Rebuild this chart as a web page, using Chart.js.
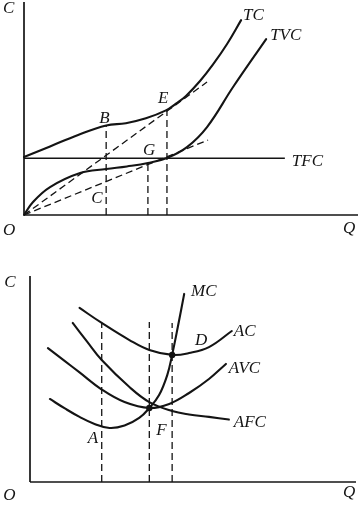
<!DOCTYPE html>
<html>
<head>
<meta charset="utf-8">
<script src="https://cdn.jsdelivr.net/npm/chart.js@4/dist/chart.umd.min.js"></script>
<style>
  html, body { margin: 0; padding: 0; background: #fff; }
  canvas { display: block; }
</style>
</head>
<body>
<canvas id="top" width="360" height="250"></canvas>
<canvas id="bottom" width="360" height="259"></canvas>
<script>
// ---------- Top panel: total cost curves (Q, C) ----------
const tcQ  = [0, 0.78, 1.62, 2.46, 3.05, 3.65, 4.25, 4.55, 4.85, 5.27, 5.66, 6.08, 6.50];
const tcC  = [2.72, 3.22, 3.76, 4.20, 4.31, 4.54, 4.91, 5.23, 5.59, 6.29, 7.07, 8.03, 9.15];
const tvcQ = [0, 0.27, 0.78, 1.68, 2.46, 3.08, 3.71, 4.28, 4.88, 5.48, 6.26, 7.25];
const tvcC = [0, 0.61, 1.31, 1.97, 2.16, 2.28, 2.44, 2.68, 3.19, 4.13, 6.01, 8.26];
const tfcQ = [0, 7.81];
const tfcC = [2.66, 2.66];
const ray1Q = [0, 5.48];
const ray1C = [0, 6.24];
const ray2Q = [0, 5.51];
const ray2C = [0, 3.52];
const topVertQ   = [2.46, 3.71, 4.28];
const topVertTop = [4.20, 2.44, 4.93];
const topLabelText = ['C', 'O', 'Q', 'TC', 'TVC', 'TFC', 'B', 'E', 'G', 'C'];
const topLabelQ    = [-0.63, -0.63, 9.55, 6.56, 7.37, 8.02, 2.25, 4.01, 3.56, 2.01];
const topLabelC    = [9.48, -0.94, -0.85, 9.15, 8.22, 2.30, 4.32, 5.26, 2.82, 0.56];

// ---------- Bottom panel: average & marginal cost curves ----------
const mcQ  = [0.61, 1.07, 1.52, 1.98, 2.44, 2.90, 3.35, 3.66, 3.96, 4.21, 4.36, 4.54, 4.73];
const mcC  = [4.03, 3.57, 3.16, 2.82, 2.62, 2.74, 3.11, 3.59, 4.22, 5.19, 6.17, 7.57, 9.13];
const acQ  = [1.52, 2.20, 3.05, 3.66, 4.36, 4.88, 5.49, 6.19];
const acC  = [8.45, 7.72, 6.89, 6.41, 6.17, 6.26, 6.55, 7.33];
const avcQ = [0.55, 1.07, 1.52, 2.20, 2.90, 3.66, 4.27, 4.88, 5.49, 6.01];
const avcC = [6.50, 5.87, 5.32, 4.49, 3.88, 3.59, 3.79, 4.32, 5.00, 5.73];
const afcQ = [1.31, 1.74, 2.20, 3.05, 3.66, 4.36, 4.88, 5.49, 6.10];
const afcC = [7.72, 6.84, 5.92, 4.61, 3.88, 3.45, 3.28, 3.16, 3.03];
const botVertQ   = [2.20, 3.66, 4.36];
const botVertTop = [7.72, 7.77, 7.72];
const dotQ = [4.36, 3.66];
const dotC = [6.17, 3.59];
const botLabelText = ['C', 'O', 'Q', 'MC', 'AC', 'D', 'AVC', 'AFC', 'A', 'F'];
const botLabelQ    = [-0.79, -0.82, 9.60, 4.94, 6.25, 5.06, 6.10, 6.25, 1.77, 3.87];
const botLabelC    = [9.47, -0.87, -0.73, 9.03, 7.09, 6.65, 5.29, 2.67, 1.89, 2.28];

// axis extents (data units)
const axisMax = 10;

// ---------- helpers ----------
const INK = '#141414';
function pts(qs, cs) { return qs.map((q, i) => ({ x: q, y: cs[i] })); }
function curve(qs, cs) {
  return { data: pts(qs, cs), showLine: true, borderColor: INK, borderWidth: 2.1,
           pointRadius: 0, tension: 0.4, borderCapStyle: 'round', borderJoinStyle: 'round',
           clip: false };
}
function straight(qs, cs, width, dash) {
  return { data: pts(qs, cs), showLine: true, borderColor: INK, borderWidth: width,
           borderDash: dash || [], pointRadius: 0, tension: 0, clip: false };
}
const DASH = [7, 4];
function verticals(qs, tops) {
  return qs.map((q, i) => straight([q, q], [0, tops[i]], 1.3, DASH));
}
function axes() {
  return [straight([0, 0], [0, axisMax], 1.7), straight([0, axisMax], [0, 0], 1.7)];
}

const labelPlugin = {
  id: 'textLabels',
  afterDatasetsDraw(chart, args, opts) {
    const ctx = chart.ctx, xs = chart.scales.x, ys = chart.scales.y;
    ctx.save();
    ctx.font = 'italic 17px "Liberation Serif", "DejaVu Serif", serif';
    ctx.fillStyle = INK;
    ctx.textAlign = 'left';
    ctx.textBaseline = 'alphabetic';
    opts.text.forEach((t, i) => {
      ctx.fillText(t, xs.getPixelForValue(opts.q[i]), ys.getPixelForValue(opts.c[i]));
    });
    ctx.restore();
  }
};

function makeOptions(padding, labels) {
  return {
    responsive: false,
    animation: false,
    devicePixelRatio: 1,
    layout: { padding: padding },
    scales: {
      x: { type: 'linear', min: 0, max: axisMax, display: false },
      y: { type: 'linear', min: 0, max: axisMax, display: false }
    },
    plugins: { legend: { display: false }, tooltip: { enabled: false }, textLabels: labels },
    events: []
  };
}

// ---------- top chart ----------
new Chart(document.getElementById('top'), {
  type: 'scatter',
  data: {
    datasets: [
      ...axes(),
      straight(tfcQ, tfcC, 1.5),
      straight(ray1Q, ray1C, 1.3, DASH),
      straight(ray2Q, ray2C, 1.3, DASH),
      ...verticals(topVertQ, topVertTop),
      curve(tcQ, tcC),
      curve(tvcQ, tvcC)
    ]
  },
  options: makeOptions({ left: 24, right: 2, top: 2, bottom: 35 },
                       { text: topLabelText, q: topLabelQ, c: topLabelC }),
  plugins: [labelPlugin]
});

// ---------- bottom chart ----------
new Chart(document.getElementById('bottom'), {
  type: 'scatter',
  data: {
    datasets: [
      ...axes(),
      ...verticals(botVertQ, botVertTop),
      curve(afcQ, afcC),
      curve(avcQ, avcC),
      curve(acQ, acC),
      curve(mcQ, mcC),
      { data: pts(dotQ, dotC), showLine: false, pointRadius: 3.2,
        pointBackgroundColor: INK, pointBorderColor: INK, pointBorderWidth: 0, clip: false }
    ]
  },
  options: makeOptions({ left: 30, right: 2, top: 26, bottom: 27 },
                       { text: botLabelText, q: botLabelQ, c: botLabelC }),
  plugins: [labelPlugin]
});
</script>
</body>
</html>
